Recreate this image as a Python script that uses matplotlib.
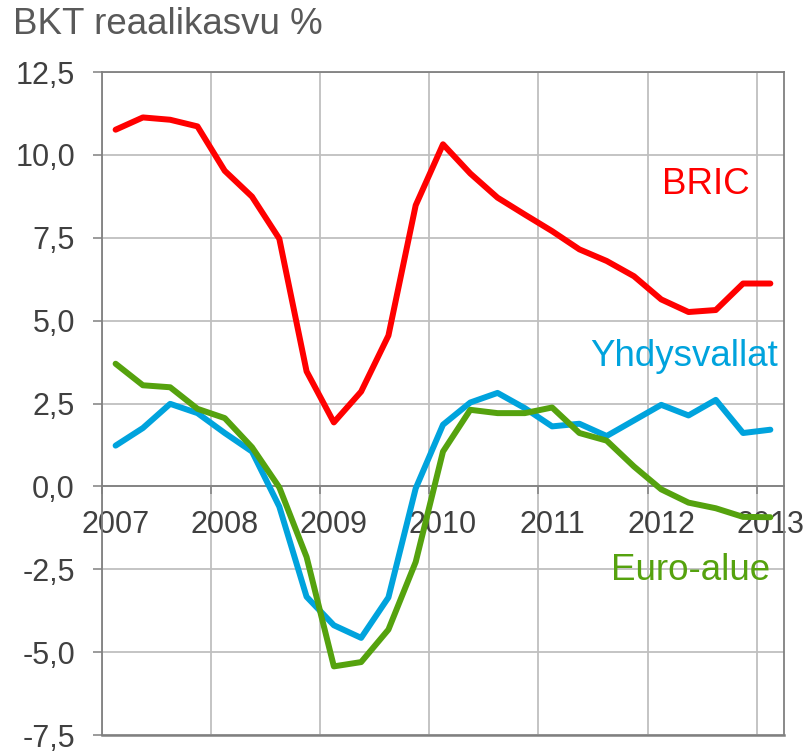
import numpy as np
import matplotlib.pyplot as plt
from matplotlib.ticker import FixedLocator

plt.rcParams['font.family'] = ['Liberation Sans', 'DejaVu Sans']

# quarterly data, 2007Q1 .. 2013Q1
years = ['2007', '2008', '2009', '2010', '2011', '2012', '2013']
bric = [10.76, 11.13, 11.06, 10.86, 9.52, 8.74, 7.47, 3.47, 1.93, 2.86, 4.55, 8.48,
        10.32, 9.44, 8.71, 8.2, 7.7, 7.15, 6.8, 6.34, 5.64, 5.26, 5.32, 6.12, 6.12]
usa = [1.23, 1.76, 2.49, 2.21, 1.61, 1.05, -0.61, -3.33, -4.19, -4.57, -3.35, -0.06,
       1.86, 2.53, 2.82, 2.36, 1.81, 1.89, 1.52, 1.99, 2.46, 2.14, 2.61, 1.61, 1.71]
euro = [3.70, 3.05, 2.99, 2.34, 2.06, 1.18, -0.03, -2.13, -5.43, -5.30, -4.32, -2.28,
        1.05, 2.31, 2.21, 2.21, 2.38, 1.61, 1.38, 0.6, -0.09, -0.49, -0.66, -0.92, -0.93]

x = np.arange(len(bric)) + 0.5

txt = '#404040'
spine_c = '#808080'
grid_c = '#BFBFBF'

fig = plt.figure(figsize=(8.08, 7.51), dpi=100)
ax = fig.add_axes([0.1262, 0.0213, 0.9703 - 0.1262, 0.9041 - 0.0213])

ax.plot(x, bric, color='#FF0000', lw=4.3, solid_capstyle='round', zorder=3)
ax.plot(x, usa, color='#00A3DD', lw=4.3, solid_capstyle='round', zorder=3)
ax.plot(x, euro, color='#55A20E', lw=4.3, solid_capstyle='round', zorder=3)

ax.set_xlim(0, len(bric))
ax.set_ylim(-7.5, 12.5)

ax.set_yticks(np.arange(-7.5, 12.6, 2.5))
ax.set_yticklabels([f'{v:.1f}'.replace('.', ',') for v in np.arange(-7.5, 12.6, 2.5)])
ax.xaxis.set_major_locator(FixedLocator(np.arange(0, 25, 4)))
ax.xaxis.set_minor_locator(FixedLocator(np.arange(0, 25, 4) + 0.5))
ax.set_xticklabels([], minor=False)
ax.set_xticklabels(years, minor=True)

ax.grid(True, which='major', color=grid_c, lw=1.3, zorder=0)
ax.tick_params(axis='y', length=6.5, width=1.1, color=spine_c, labelsize=22,
               labelcolor=txt, pad=13)
ax.tick_params(axis='x', which='major', length=6, width=1.1, color=spine_c,
               direction='out')
ax.tick_params(axis='x', which='minor', length=0, labelsize=22,
               labelcolor=txt, pad=17)

for s in ax.spines.values():
    s.set_color(spine_c)
    s.set_linewidth(1.3)
ax.spines['bottom'].set_position(('data', 0))
ax.axhline(-7.5, color=spine_c, lw=1.8, clip_on=False, zorder=2)

fig.text(13 / 808, 1 - 25 / 751, 'BKT reaalikasvu %', fontsize=26.5, color='#595959',
         ha='left', va='center')

ax.text(23.75, 8.81, 'BRIC', color='#FF0000', fontsize=26.5, ha='right', va='baseline')
ax.text(24.78, 3.64, 'Yhdysvallat', color='#00A3DD', fontsize=26.5, ha='right', va='baseline')
ax.text(24.49, -2.83, 'Euro-alue', color='#55A20E', fontsize=26.5, ha='right', va='baseline')

fig.savefig('out.png', dpi=100)
